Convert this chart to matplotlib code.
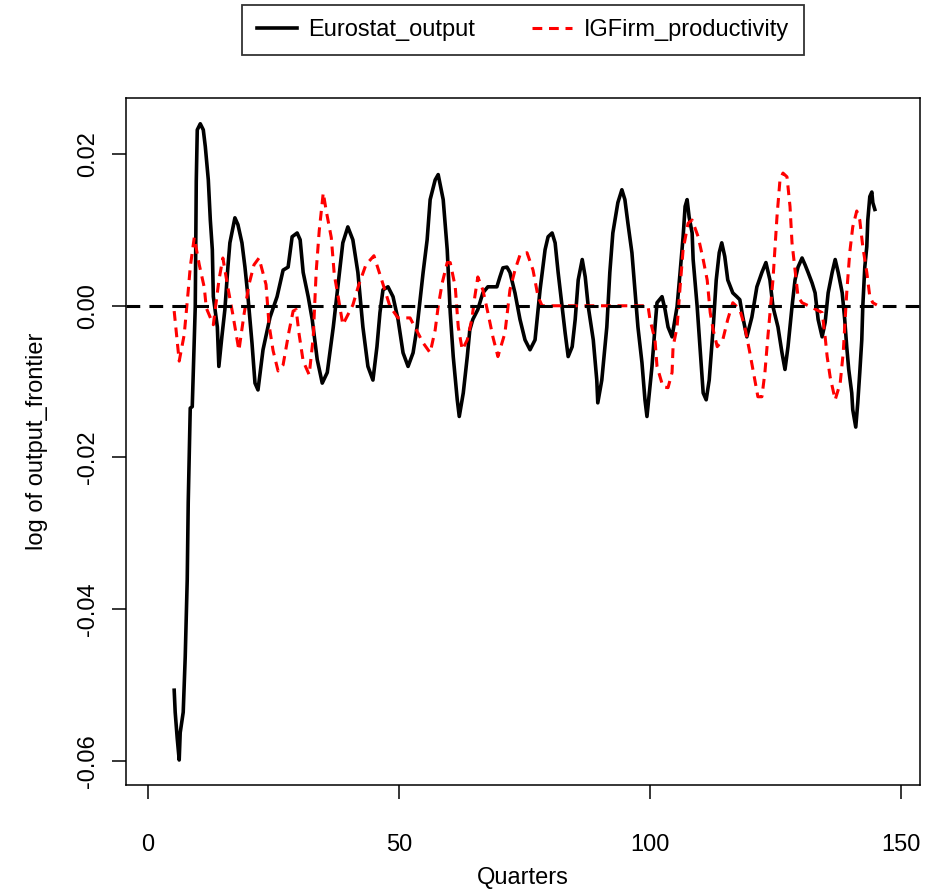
import matplotlib
matplotlib.use("Agg")
import matplotlib.pyplot as plt

plt.rcParams["font.family"] = ["Liberation Sans", "DejaVu Sans"]

# Eurostat_output (black, solid)
eurostat_q = [5.2, 5.4, 5.8, 6.2, 6.4, 7.0, 7.4, 7.8, 8.0, 8.4, 8.8, 9.4, 9.6, 9.8, 10.4,
              11.0, 11.4, 12.0, 12.4, 12.8, 13.0, 13.8, 14.1, 14.7, 15.3, 15.9, 16.3, 17.3,
              17.9, 18.7, 19.3, 19.9, 20.7, 21.3, 21.9, 22.9, 24.3, 25.7, 26.9, 27.9, 28.7,
              29.7, 30.3, 30.9, 31.9, 32.7, 33.7, 34.7, 35.7, 36.9, 37.9, 38.8, 39.8, 40.8,
              41.8, 42.8, 43.8, 44.8, 45.6, 46.2, 46.8, 47.8, 48.8, 49.8, 50.8, 51.8, 52.8,
              53.6, 54.8, 55.6, 56.2, 57.2, 57.8, 58.8, 59.6, 60.2, 60.8, 61.6, 62.0, 62.8,
              63.6, 64.1, 64.7, 65.7, 66.7, 67.7, 69.5, 70.1, 70.7, 71.5, 72.1, 73.1, 74.1,
              75.1, 76.1, 77.1, 78.1, 79.1, 79.7, 80.5, 81.1, 81.7, 82.5, 83.1, 83.7, 84.5,
              85.1, 85.7, 86.5, 87.1, 87.7, 88.7, 89.4, 89.6, 90.4, 91.4, 92.0, 92.6, 93.6,
              94.4, 95.0, 95.6, 96.4, 97.0, 97.6, 98.4, 99.0, 99.4, 100.4, 101.0, 101.4,
              102.4, 103.0, 103.6, 104.4, 105.4, 106.0, 106.6, 107.0, 107.4, 107.8, 108.4,
              108.6, 109.4, 110.0, 110.6, 111.2, 111.8, 112.6, 113.2, 113.8, 114.3, 114.9,
              115.5, 116.5, 117.3, 117.9, 118.5, 119.3, 120.3, 121.3, 122.3, 123.1, 123.9,
              124.5, 125.5, 126.3, 126.9, 127.5, 128.3, 128.9, 129.5, 130.3, 130.9, 131.5,
              132.3, 132.9, 133.5, 134.3, 134.9, 135.5, 136.3, 136.9, 137.5, 138.3, 138.8,
              139.2, 139.6, 140.2, 140.4, 141.0, 141.4, 141.8, 142.2, 142.4, 142.8, 143.2,
              143.4, 143.8, 144.2, 144.4, 144.8]
eurostat_val = [-0.0507, -0.0536, -0.0570, -0.0599, -0.0563, -0.0536, -0.0463, -0.0361,
                -0.0259, -0.0135, -0.0133, -0.0001, 0.0164, 0.0232, 0.0240, 0.0232, 0.0210,
                0.0166, 0.0113, 0.0074, 0.0012, -0.0028, -0.0080, -0.0041, -0.0005, 0.0051,
                0.0083, 0.0116, 0.0107, 0.0083, 0.0051, 0.0012, -0.0049, -0.0102, -0.0111,
                -0.0058, -0.0015, 0.0012, 0.0047, 0.0051, 0.0091, 0.0096, 0.0087, 0.0044,
                0.0012, -0.0018, -0.0071, -0.0102, -0.0088, -0.0028, 0.0030, 0.0083, 0.0104,
                0.0087, 0.0044, -0.0028, -0.0080, -0.0098, -0.0054, -0.0009, 0.0021, 0.0025,
                0.0012, -0.0018, -0.0062, -0.0080, -0.0062, -0.0028, 0.0044, 0.0087, 0.0140,
                0.0166, 0.0173, 0.0140, 0.0074, -0.0009, -0.0067, -0.0124, -0.0146, -0.0115,
                -0.0067, -0.0032, -0.0018, -0.0005, 0.0017, 0.0025, 0.0025, 0.0038, 0.0050,
                0.0051, 0.0044, 0.0017, -0.0018, -0.0045, -0.0058, -0.0045, 0.0021, 0.0074,
                0.0091, 0.0096, 0.0083, 0.0044, -0.0001, -0.0036, -0.0067, -0.0054, -0.0018,
                0.0034, 0.0061, 0.0038, -0.0001, -0.0045, -0.0098, -0.0128, -0.0098, -0.0028,
                0.0044, 0.0096, 0.0136, 0.0153, 0.0140, 0.0109, 0.0070, 0.0021, -0.0028,
                -0.0075, -0.0124, -0.0146, -0.0080, -0.0028, 0.0004, 0.0012, -0.0005, -0.0028,
                -0.0041, -0.0001, 0.0044, 0.0091, 0.0131, 0.0140, 0.0117, 0.0096, 0.0061,
                -0.0001, -0.0058, -0.0115, -0.0124, -0.0098, -0.0028, 0.0034, 0.0070, 0.0083,
                0.0065, 0.0034, 0.0017, 0.0012, 0.0008, -0.0015, -0.0041, -0.0015, 0.0025,
                0.0044, 0.0057, 0.0034, -0.0001, -0.0028, -0.0062, -0.0084, -0.0054, -0.0001,
                0.0034, 0.0051, 0.0063, 0.0054, 0.0044, 0.0030, 0.0017, -0.0018, -0.0041,
                -0.0022, 0.0017, 0.0044, 0.0061, 0.0044, 0.0017, -0.0018, -0.0054, -0.0084,
                -0.0115, -0.0137, -0.0160, -0.0128, -0.0088, -0.0045, -0.0001, 0.0051, 0.0078,
                0.0113, 0.0144, 0.0150, 0.0136, 0.0127]

# IGFirm_productivity (red, dashed)
igfirm_q = [5.2, 6.2, 7.2, 8.0, 8.4, 9.2, 10.2, 11.2, 11.6, 13.0, 14.1, 14.9, 15.9, 16.9,
            18.1, 19.1, 20.1, 21.1, 22.1, 23.5, 24.1, 24.9, 25.9, 26.9, 28.1, 28.9, 29.5,
            30.1, 30.9, 32.1, 32.9, 33.5, 34.1, 34.9, 35.5, 36.5, 37.1, 37.9, 38.8, 40.8,
            42.0, 43.4, 45.0, 46.4, 48.2, 49.8, 52.2, 54.8, 56.2, 57.2, 57.8, 58.6, 59.6,
            60.2, 61.2, 61.8, 62.6, 63.6, 64.5, 65.1, 65.7, 66.7, 67.7, 68.7, 69.7, 71.1,
            72.1, 73.1, 74.1, 75.5, 76.7, 77.7, 78.5, 85.0, 92.0, 99.6, 100.0, 101.0, 101.4,
            102.6, 103.6, 104.4, 104.6, 105.4, 106.0, 106.6, 107.6, 108.4, 109.6, 110.6,
            111.4, 112.0, 112.6, 113.4, 114.5, 115.5, 116.5, 117.9, 118.9, 119.9, 120.9,
            121.5, 122.3, 122.9, 123.5, 124.5, 125.3, 125.9, 126.5, 127.3, 127.9, 128.3,
            128.9, 129.5, 130.3, 131.9, 134.3, 134.9, 135.3, 135.9, 136.9, 137.9, 138.5,
            139.2, 139.8, 140.4, 141.2, 141.8, 142.4, 143.2, 143.8, 144.4, 145.2]
igfirm_val = [-0.0007, -0.0073, -0.0038, 0.0020, 0.0051, 0.0090, 0.0054, 0.0024, -0.0003,
              -0.0025, 0.0033, 0.0063, 0.0024, -0.0012, -0.0059, -0.0012, 0.0028, 0.0054,
              0.0063, 0.0028, -0.0025, -0.0059, -0.0086, -0.0078, -0.0033, -0.0007, -0.0005,
              -0.0038, -0.0073, -0.0091, -0.0042, 0.0046, 0.0099, 0.0149, 0.0125, 0.0090,
              0.0041, 0.0011, -0.0025, 0.0001, 0.0028, 0.0054, 0.0066, 0.0037, -0.0001,
              -0.0016, -0.0016, -0.0049, -0.0062, -0.0032, -0.0001, 0.0030, 0.0057, 0.0057,
              0.0025, -0.0028, -0.0058, -0.0045, -0.0018, 0.0012, 0.0038, 0.0021, -0.0009,
              -0.0041, -0.0067, -0.0036, 0.0021, 0.0047, 0.0067, 0.0070, 0.0047, 0.0012,
              0.0000, 0.0000, 0.0000, 0.0000, -0.0018, -0.0045, -0.0080, -0.0107, -0.0108,
              -0.0088, -0.0054, -0.0028, 0.0025, 0.0074, 0.0109, 0.0113, 0.0091, 0.0061,
              0.0034, -0.0009, -0.0032, -0.0054, -0.0045, -0.0018, 0.0004, -0.0005, -0.0028,
              -0.0062, -0.0098, -0.0120, -0.0120, -0.0088, -0.0040, 0.0034, 0.0117, 0.0166,
              0.0175, 0.0170, 0.0131, 0.0083, 0.0047, 0.0012, 0.0004, -0.0001, -0.0009,
              -0.0041, -0.0067, -0.0094, -0.0124, -0.0102, -0.0062, 0.0017, 0.0070, 0.0104,
              0.0125, 0.0113, 0.0078, 0.0044, 0.0012, 0.0004, 0.0001]

x_ticks = [0, 50, 100, 150]
y_ticks = [-0.06, -0.04, -0.02, 0.00, 0.02]
y_tick_labels = ["-0.06", "-0.04", "-0.02", "0.00", "0.02"]

fs = 17
fig = plt.figure(figsize=(9.32, 8.91), dpi=100)
ax = fig.add_axes([126 / 932, 1 - 785 / 891, 794 / 932, 687 / 891])

ax.plot(eurostat_q, eurostat_val, color="black", lw=2.6, label="Eurostat_output")
ax.plot(igfirm_q, igfirm_val, color="red", lw=2.2, linestyle=(0, (3.2, 2.2)),
        label="IGFirm_productivity")
ax.axhline(0, color="black", lw=2.2, linestyle=(0, (4.5, 3)))

ax.set_xlim(-4.4, 153.8)
ax.set_ylim(-0.0632, 0.0274)
ax.set_xticks(x_ticks)
ax.set_xticklabels([str(t) for t in x_ticks])
ax.set_yticks(y_ticks)
ax.set_yticklabels(y_tick_labels, rotation=90, va="center")

for s in ax.spines.values():
    s.set_linewidth(1.1)
ax.tick_params(axis="both", direction="out", length=10, width=1.1, labelsize=fs)
ax.tick_params(axis="x", pad=25)
ax.tick_params(axis="y", pad=9.5)

ax.set_xlabel("Quarters", fontsize=fs, labelpad=8)
ax.set_ylabel("log of output_frontier", fontsize=fs, labelpad=21)

leg = fig.legend(loc="upper center", bbox_to_anchor=(523 / 932, 1 - 5 / 891), ncol=2,
                 fontsize=fs, frameon=True, fancybox=False, edgecolor="black",
                 handlelength=1.7, handletextpad=0.5, columnspacing=2.4,
                 borderpad=0.6, borderaxespad=0)
leg.get_frame().set_linewidth(1.3)

plt.savefig("out.png", dpi=100)
plt.close(fig)
